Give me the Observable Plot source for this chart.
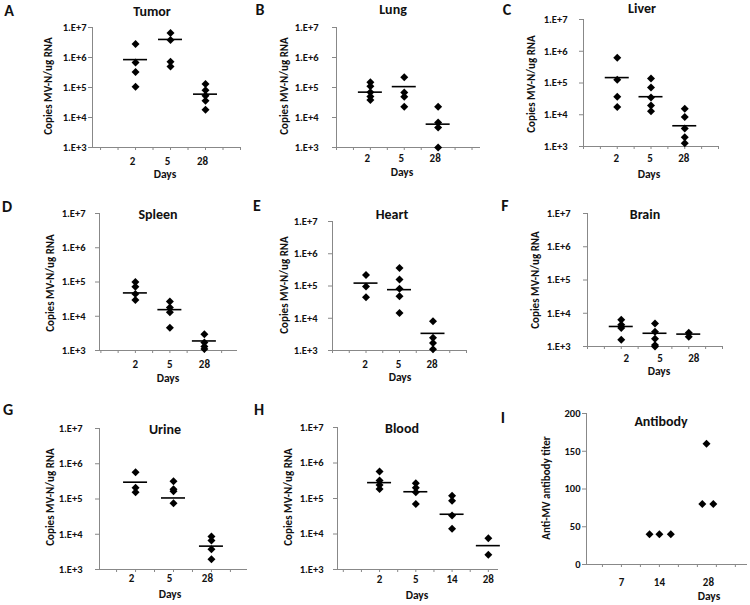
<!DOCTYPE html>
<html><head><meta charset="utf-8">
<script src="https://cdn.jsdelivr.net/npm/d3@7"></script>
<script src="https://cdn.jsdelivr.net/npm/@observablehq/plot@0.6"></script>
<style>
body{margin:0;background:#fff;}
#page{position:relative;width:750px;height:605px;overflow:hidden;font-family:Carlito,Lato,"Open Sans",sans-serif;color:#111;}
.t{position:absolute;transform:translate(-50%,-50%);white-space:nowrap;font-weight:bold;line-height:1;}
.letter{font-size:16px;}
.title{font-size:14px;}
.xl{font-size:11.5px;}
.yl{font-size:11px;transform:translate(-50%,-50%) rotate(-90deg);}
.pn{position:absolute;}
.pn svg [aria-label$="tick"] path{stroke:#888;}
</style></head><body><div id="page"></div>
<script>
// ---------- data ----------
const tumorDays = ["2", "5", "28"];
const tumorCopies = [[2.8e6, 6.8e5, 3.3e5, 1.05e5], [6.5e6, 3.8e6, 7.2e5, 5.0e5], [1.3e5, 8.1e4, 5.3e4, 3.6e4, 1.8e4]];
const tumorMean = [8.5e5, 4.0e6, 6.0e4];

const lungDays = ["2", "5", "28"];
const lungCopies = [[1.5e5, 1.1e5, 7.0e4, 5.0e4, 3.8e4], [2.2e5, 6.8e4, 4.9e4, 2.3e4], [2.3e4, 6.8e3, 4.6e3, 1.0e3]];
const lungMean = [7.0e4, 1.07e5, 6.0e3];

const liverDays = ["2", "5", "28"];
const liverCopies = [[6.2e5, 1.26e5, 3.7e4, 1.74e4], [1.38e5, 7.2e4, 3.5e4, 1.95e4, 1.3e4], [1.55e4, 8.5e3, 3.7e3, 1.95e3, 1.27e3]];
const liverMean = [1.48e5, 3.7e4, 4.5e3];

const spleenDays = ["2", "5", "28"];
const spleenCopies = [[1.0e5, 7.3e4, 4.5e4, 3.0e4], [2.7e4, 1.8e4, 1.3e4, 4.6e3], [3.0e3, 1.7e3, 1.3e3, 1.1e3]];
const spleenMean = [4.8e4, 1.56e4, 1.9e3];

const heartDays = ["2", "5", "28"];
const heartCopies = [[2.2e5, 9.7e4, 4.5e4], [3.6e5, 1.6e5, 8.2e4, 4.8e4, 1.46e4], [8.1e3, 2.5e3, 1.7e3, 1.1e3]];
const heartMean = [1.23e5, 7.7e4, 3.4e3];

const brainDays = ["2", "5", "28"];
const brainCopies = [[6.4e3, 4.5e3, 3.6e3, 1.6e3], [4.9e3, 2.8e3, 1.7e3, 1.1e3, 1.0e3], [2.6e3, 1.96e3]];
const brainMean = [4.0e3, 2.5e3, 2.36e3];

const urineDays = ["2", "5", "28"];
const urineCopies = [[5.7e5, 2.1e5, 1.56e5], [3.2e5, 1.9e5, 1.67e5, 7.6e4], [8.7e3, 6.7e3, 3.75e3, 1.96e3]];
const urineMean = [3.0e5, 1.07e5, 4.6e3];

const bloodDays = ["2", "5", "14", "28"];
const bloodCopies = [[5.8e5, 3.2e5, 2.4e5, 1.86e5], [2.7e5, 2.0e5, 1.5e5, 7.0e4], [1.2e5, 8.7e4, 3.3e4, 1.4e4], [7.6e3, 2.6e3]];
const bloodMean = [2.8e5, 1.55e5, 3.6e4, 4.7e3];

const antibodyDays = ["7", "14", "28"];
const antibodyDay = [14, 14, 14, 28, 28, 28];
const antibodyTiter = [40, 40, 40, 80, 160, 80];

const yLabelCopies = "Copies MV-N/ug RNA";
const yLabelTiter = "Anti-MV antibody titer";
const xLabel = "Days";

// ---------- layout ----------
const panels = [
  {letter:"A", title:"Tumor", days:tumorDays, values:tumorCopies, mean:tumorMean,
   L:[9,11], T:[152,12], D:[165,175], Y:[48,86], f:[92,240,27,147], dom:[-0.23,4.0], pad:2, ldx:-3, ldy:14},
  {letter:"B", title:"Lung", days:lungDays, values:lungCopies, mean:lungMean,
   L:[260,10], T:[393,10], D:[402,173], Y:[284,86], f:[336,480,27,147], dom:[0,4.25], pad:14, ldx:-3, ldy:10.5},
  {letter:"C", title:"Liver", days:liverDays, values:liverCopies, mean:liverMean,
   L:[507,10], T:[642,9], D:[649,175], Y:[531,84], f:[583,718,19,146], dom:[0,4], pad:12, ldx:-1, ldy:12},
  {letter:"D", title:"Spleen", days:spleenDays, values:spleenCopies, mean:spleenMean,
   L:[7,207], T:[158,215], D:[168,379], Y:[50,283], f:[99,237,213,350], dom:[-0.04,3.96], pad:10, ldx:0, ldy:14},
  {letter:"E", title:"Heart", days:heartDays, values:heartCopies, mean:heartMean,
   L:[257,206], T:[392,215], D:[400,378], Y:[284,285], f:[332,466,221,350], dom:[0,4], pad:11, ldx:-1, ldy:14},
  {letter:"F", title:"Brain", days:brainDays, values:brainCopies, mean:brainMean,
   L:[505,206], T:[645,215], D:[659,372], Y:[535,280], f:[587,722,213,346], dom:[0,4], pad:13, ldx:5, ldy:11.5},
  {letter:"G", title:"Urine", days:urineDays, values:urineCopies, mean:urineMean,
   L:[8,410], T:[165,430], D:[170,595], Y:[50,497], f:[99,247,428,569], dom:[0.05,3.95], pad:13, ldx:-4, ldy:9},
  {letter:"H", title:"Blood", days:bloodDays, values:bloodCopies, mean:bloodMean,
   L:[259,410], T:[402,429], D:[417,596], Y:[288,497], f:[337,498,427,569], dom:[-0.16,4.28], pad:10, ldx:0, ldy:10},
  {letter:"I", title:"Antibody", days:antibodyDays, antibody:true,
   L:[503,418], T:[661,422], D:[709,597], Y:[546,488], f:[586,747,413,564], dom:[0.08,4.32], pad:2, ldx:0, ldy:18,
   catPos:[1,2,3.29], jitter:[-0.26,0,0.3,-0.16,-0.05,0.13]}
];

const page = document.getElementById("page");
function addText(cls, txt, xy) {
  const d = document.createElement("div");
  d.className = "t " + cls;
  d.textContent = txt;
  d.style.left = xy[0] + "px";
  d.style.top = xy[1] + "px";
  page.appendChild(d);
}

const FONT = 'Carlito, Lato, "Open Sans", sans-serif';
for (const p of panels) {
  const [fx0, fx1, fy0, fy1] = p.f;
  const ML = 62, MR = 6, MT = 8, MB = 26;
  const W = ML + (fx1 - fx0) + MR, H = MT + (fy1 - fy0) + MB;
  const catPos = p.catPos || p.days.map((d, i) => i + 1);
  const halfTicks = d3.range(Math.ceil(p.dom[0] * 2) / 2, p.dom[1] + 1e-9, 0.5);
  let yScale, ymin, points, means = [];
  if (p.antibody) {
    yScale = {domain:[0,200], ticks:[0,50,100,150,200], tickSize:4, tickPadding:p.pad, label:null};
    ymin = 0;
    points = antibodyDay.map((day, i) => ({pos: catPos[p.days.indexOf(String(day))] + p.jitter[i], v: antibodyTiter[i]}));
  } else {
    yScale = {type:"log", domain:[1e3,1e7], ticks:[1e3,1e4,1e5,1e6,1e7],
              tickFormat: d => "1.E+" + Math.round(Math.log10(d)), tickSize:4, tickPadding:p.pad, label:null};
    ymin = 1e3;
    points = p.values.flatMap((vs, i) => vs.map(v => ({pos: catPos[i], v})));
    means = p.mean.map((m, i) => ({pos: catPos[i], v: m}));
  }
  const chart = Plot.plot({
    width: W, height: H, marginLeft: ML, marginRight: MR, marginTop: MT, marginBottom: MB,
    style: {background:"transparent", fontFamily: FONT, fontSize:"10.5px", fontWeight:"bold", color:"#111", overflow:"visible"},
    x: {domain: p.dom, ticks: halfTicks, tickFormat: () => "", tickSize: 3, label: null},
    y: yScale,
    marks: [
      Plot.ruleX([p.dom[0]], {stroke:"#888"}),
      Plot.ruleY([ymin], {stroke:"#888"}),
      Plot.text(p.days, {x: (d, i) => catPos[i], y: () => ymin, dy: p.ldy, dx: p.ldx, fontSize: 11, fontWeight: "bold", fill:"#111"}),
      Plot.ruleY(means, {y:"v", x1:"pos", x2:"pos", insetLeft:-12, insetRight:-12, stroke:"#000", strokeWidth:1.6}),
      Plot.dot(points, {x:"pos", y:"v", symbol:"diamond2", r:3.6, fill:"#000"})
    ]
  });
  const holder = document.createElement("div");
  holder.className = "pn";
  holder.style.left = (fx0 - ML) + "px";
  holder.style.top = (fy0 - MT) + "px";
  holder.style.width = W + "px";
  holder.style.height = H + "px";
  holder.appendChild(chart);
  page.appendChild(holder);

  addText("letter", p.letter, p.L);
  addText("title", p.title, p.T);
  addText("xl", xLabel, p.D);
  addText("yl", p.antibody ? yLabelTiter : yLabelCopies, p.Y);
}
</script></body></html>
